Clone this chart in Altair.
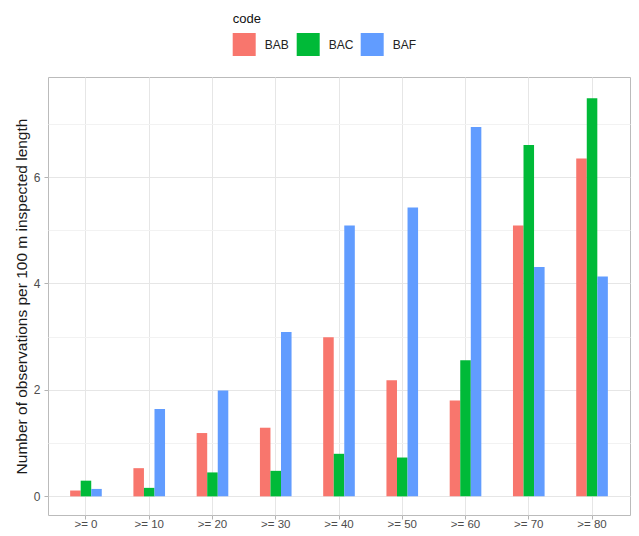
import altair as alt
import pandas as pd

categories = [">= 0", ">= 10", ">= 20", ">= 30", ">= 40", ">= 50", ">= 60", ">= 70", ">= 80"]
codes = ["BAB", "BAC", "BAF"]
bab = [0.11, 0.53, 1.19, 1.29, 2.99, 2.18, 1.80, 5.09, 6.35]
bac = [0.295, 0.16, 0.45, 0.48, 0.80, 0.73, 2.56, 6.60, 7.48]
baf = [0.14, 1.64, 1.99, 3.09, 5.09, 5.43, 6.94, 4.31, 4.13]
colors = ["#F8766D", "#00BA38", "#619CFF"]
y_ticks = [0, 1, 2, 3, 4, 5, 6, 7]

rows = []
for code, vals in zip(codes, [bab, bac, baf]):
    for c, v in zip(categories, vals):
        rows.append({"group": c, "code": code, "value": v})
df = pd.DataFrame(rows)

FONT = "Liberation Sans"

chart = alt.Chart(df).mark_bar().encode(
    x=alt.X(
        "group:N",
        sort=categories,
        scale=alt.Scale(paddingInner=0.5, paddingOuter=0.35),
        axis=alt.Axis(
            title=None, labelAngle=0, grid=True, bandPosition=0.5,
            gridColor="#E6E6E6", gridWidth=1,
            tickSize=4, tickColor="#B3B3B3", labelPadding=8,
            labelBaseline="alphabetic",
            labelFontSize=11.5, labelColor="#4D4D4D", domain=False,
        ),
    ),
    xOffset=alt.XOffset("code:N", sort=codes,
                        scale=alt.Scale(paddingInner=0, paddingOuter=0)),
    y=alt.Y(
        "value:Q",
        scale=alt.Scale(domain=[-0.35, 7.88], nice=False, zero=False),
        axis=alt.Axis(
            title="Number of observations per 100 m inspected length",
            values=y_ticks,
            labelExpr="datum.value % 2 === 0 ? datum.label : ''",
            gridColor={"condition": {"test": "datum.value % 2 === 1", "value": "#F2F2F2"},
                       "value": "#E6E6E6"},
            tickOpacity={"condition": {"test": "datum.value % 2 === 1", "value": 0},
                         "value": 1},
            tickSize=4, tickColor="#B3B3B3", labelPadding=4,
            labelFontSize=12, labelColor="#4D4D4D", domain=False,
            titleX=-21.5, titleY=219, titleAngle=270, titleAlign="center",
            titleBaseline="alphabetic", titleFontSize=15.5,
            titleFontWeight="normal", titleColor="#1A1A1A",
        ),
    ),
    y2=alt.datum(0),
    color=alt.Color(
        "code:N",
        scale=alt.Scale(domain=codes, range=colors),
        legend=alt.Legend(
            title="code", orient="none", legendX=184.7, legendY=-64,
            direction="horizontal", symbolType="square", symbolSize=529,
            symbolStrokeWidth=0, symbolOpacity=1,
            labelFontSize=12, labelColor="#222222", labelOffset=9,
            columnPadding=7, titlePadding=7, padding=0,
            titleFontSize=13, titleFontWeight="normal", titleColor="#111111",
        ),
    ),
).properties(
    width=582,
    height=438,
    autosize=alt.AutoSizeParams(type="none"),
    padding={"left": 40, "top": 69, "right": 1, "bottom": 13},
).configure(font=FONT).configure_view(stroke="#BBBBBB", strokeWidth=1)

chart.save("out.html", embed_options={"renderer": "svg", "actions": False})
